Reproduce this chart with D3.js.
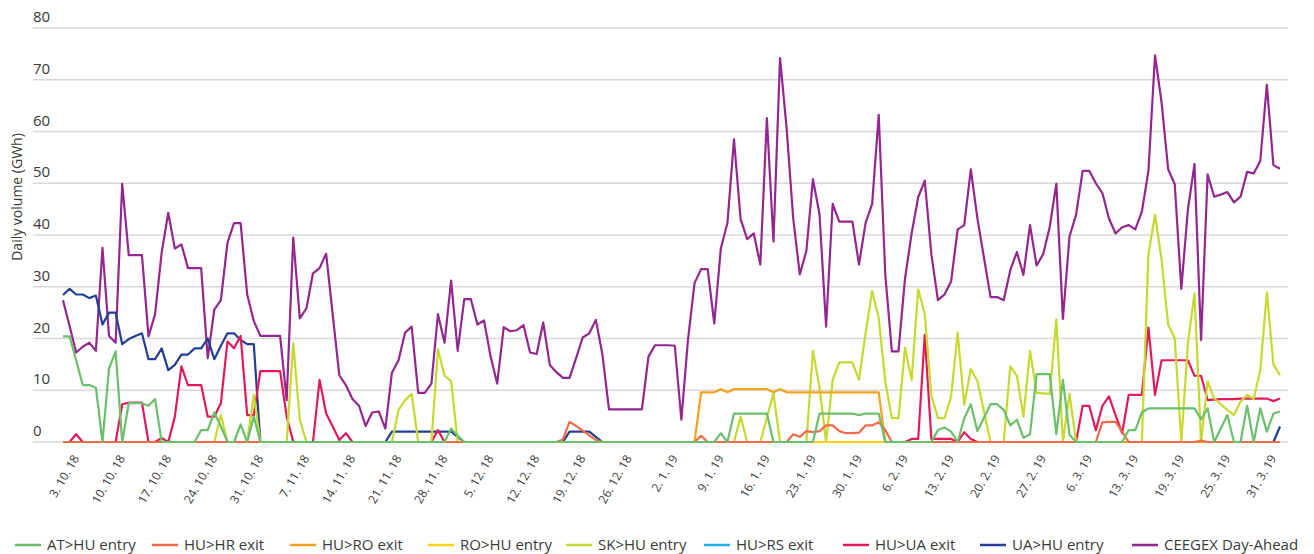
<!DOCTYPE html>
<html>
<head>
<meta charset="utf-8">
<script src="https://cdn.jsdelivr.net/npm/d3@7"></script>
<style>
  html, body { margin: 0; padding: 0; background: #ffffff; }
  svg text { font-family: "Open Sans", "Noto Sans", sans-serif; fill: #3a3a3a; }
</style>
</head>
<body>
<div id="chart"></div>
<script>
"use strict";

// Tick labels, one every 7 days of the category axis.
const tickLabels = [
    "3. 10. 18", "10. 10. 18", "17. 10. 18", "24. 10. 18", "31. 10. 18",
    "7. 11. 18", "14. 11. 18", "21. 11. 18", "28. 11. 18", "5. 12. 18",
    "12. 12. 18", "19. 12. 18", "26. 12. 18", "2. 1. 19", "9. 1. 19",
    "16. 1. 19", "23. 1. 19", "30. 1. 19", "6. 2. 19", "13. 2. 19",
    "20. 2. 19", "27. 2. 19", "6. 3. 19", "13. 3. 19", "19. 3. 19",
    "25. 3. 19", "31. 3. 19"
];
const yTicks = [0, 10, 20, 30, 40, 50, 60, 70, 80];

// Daily volumes (GWh).
const atHuEntry = [
    20.4, 20.4, 15.8, 11.0, 11.0, 10.5, 0, 14.2, 17.5, 0,
    7.5, 7.5, 7.5, 7.0, 8.3, 0, 0, 0, 0, 0,
    0, 2.3, 2.3, 5.7, 3.0, 0, 0, 3.4, 0, 4.9,
    0, 0, 0, 0, 0, 0, 0, 0, 0, 0,
    0, 0, 0, 0, 0, 0, 0, 0, 0, 0,
    0, 0, 0, 0, 0, 0, 0, 0, 0, 2.6,
    1.2, 0, 0, 0, 0, 0, 0, 0, 0, 0,
    0, 0, 0, 0, 0, 0, 0, 0, 0, 0,
    0, 0, 0, 0, 0, 0, 0, 0, 0, 0,
    0, 0, 0, 0, 0, 0, 0, 0, 0, 0,
    1.7, 0, 5.5, 5.5, 5.5, 5.5, 5.5, 5.5, 0, 0,
    0, 0, 0, 0, 0, 5.5, 5.5, 5.5, 5.5, 5.5,
    5.5, 5.2, 5.5, 5.5, 5.5, 0, 0, 0, 0, 0,
    0, 0, 0, 2.3, 2.8, 2.0, 0, 4.6, 7.3, 2.1,
    4.7, 7.3, 7.3, 6.2, 3.2, 4.3, 0.8, 1.5, 13.1, 13.1,
    13.1, 1.5, 12.0, 1.4, 0, 0, 0, 0, 0, 0,
    0, 0, 2.3, 2.3, 5.7, 6.5, 6.5, 6.5, 6.5, 6.5,
    6.5, 6.5, 6.5, 4.4, 6.5, 0, 2.6, 5.2, 0, 0,
    7.0, 0, 6.5, 2.0, 5.5, 5.9
];
const huHrExit = [
    0, 0, 0, 0, 0, 0, 0, 0, 0, 0,
    0, 0, 0, 0, 0, 0, 0, 0, 0, 0,
    0, 0, 0, 0, 0, 0, 0, 0, 0, 0,
    0, 0, 0, 0, 0, 0, 0, 0, 0, 0,
    0, 0, 0, 0, 0, 0, 0, 0, 0, 0,
    0, 0, 0, 0, 0, 0, 0, 0, 0, 0,
    0, 0, 0, 0, 0, 0, 0, 0, 0, 0,
    0, 0, 0, 0, 0, 0, 0.5, 3.9, 3.1, 2.2,
    1.3, 0.4, 0, 0, 0, 0, 0, 0, 0, 0,
    0, 0, 0, 0, 0, 0, 0, 1.2, 0, 0,
    0, 0, 0, 0, 0, 0, 0, 0, 0, 0,
    0, 1.5, 1.0, 2.1, 1.9, 2.1, 3.2, 3.2, 2.1, 1.7,
    1.7, 1.8, 3.2, 3.2, 3.8, 2.3, 0, 0, 0, 0,
    0, 0, 0, 0, 0, 0, 0, 0, 0, 0,
    0, 0, 0, 0, 0, 0, 0, 0, 0, 0,
    0, 0, 0, 0, 0, 0, 0, 0, 3.8, 3.9,
    3.9, 2.0, 0, 0, 0, 0, 0, 0, 0, 0,
    0, 0, 0, 0.3, 0, 0, 0, 0, 0, 0,
    0, 0, 0, 0, 0, 0
];
const huRoExit = [
    0, 0, 0, 0, 0, 0, 0, 0, 0, 0,
    0, 0, 0, 0, 0, 0, 0, 0, 0, 0,
    0, 0, 0, 0, 0, 0, 0, 0, 0, 0,
    0, 0, 0, 0, 0, 0, 0, 0, 0, 0,
    0, 0, 0, 0, 0, 0, 0, 0, 0, 0,
    0, 0, 0, 0, 0, 0, 0, 0, 0, 0,
    0, 0, 0, 0, 0, 0, 0, 0, 0, 0,
    0, 0, 0, 0, 0, 0, 0, 0, 0, 0,
    0, 0, 0, 0, 0, 0, 0, 0, 0, 0,
    0, 0, 0, 0, 0, 0, 0, 9.6, 9.6, 9.6,
    10.2, 9.6, 10.2, 10.2, 10.2, 10.2, 10.2, 10.2, 9.6, 10.2,
    9.6, 9.6, 9.6, 9.6, 9.6, 9.6, 9.6, 9.6, 9.6, 9.6,
    9.6, 9.6, 9.6, 9.6, 9.6, 0, 0, 0, 0, 0,
    0, 0, 0, 0, 0, 0, 0, 0, 0, 0,
    0, 0, 0, 0, 0, 0, 0, 0, 0, 0,
    0, 0, 0, 0, 0, 0, 0, 0, 0, 0,
    0, 0, 0, 0, 0, 0, 0, 0, 0, 0,
    0, 0, 0, 0, 0, 0, 0, 0, 0, 0,
    0, 0, 0, 0, 0, 0
];
const roHuEntry = [
    0, 0, 0, 0, 0, 0, 0, 0, 0, 0, 0, 0, 0, 0, 0, 0, 0, 0, 0, 0,
    0, 0, 0, 0, 0, 0, 0, 0, 0, 0, 0, 0, 0, 0, 0, 0, 0, 0, 0, 0,
    0, 0, 0, 0, 0, 0, 0, 0, 0, 0, 0, 0, 0, 0, 0, 0, 0, 0, 0, 0,
    0, 0, 0, 0, 0, 0, 0, 0, 0, 0, 0, 0, 0, 0, 0, 0, 0, 0, 0, 0,
    0, 0, 0, 0, 0, 0, 0, 0, 0, 0, 0, 0, 0, 0, 0, 0, 0, 0, 0, 0,
    0, 0, 0, 0, 0, 0, 0, 0, 0, 0, 0, 0, 0, 0, 0, 0, 0, 0, 0, 0,
    0, 0, 0, 0, 0, 0, 0, 0, 0, 0, 0, 0, 0, 0, 0, 0, 0, 0, 0, 0,
    0, 0, 0, 0, 0, 0, 0, 0, 0, 0, 0, 0, 0, 0, 0, 0, 0, 0, 0, 0,
    0, 0, 0, 0, 0, 0, 0, 0, 0, 0, 0, 0, 0, 0, 0, 0, 0, 0, 0, 0,
    0, 0, 0, 0, 0, 0
];
const skHuEntry = [
    0, 0, 0, 0, 0, 0, 0, 0, 0, 0,
    0, 0, 0, 0, 0, 0, 0, 0, 0, 0,
    0, 0, 0, 0, 5.2, 0, 0, 0, 0, 9.1,
    0, 0, 0, 0, 0, 19.1, 4.3, 0, 0, 0,
    0, 0, 0, 0, 0, 0, 0, 0, 0, 0,
    0, 6.2, 8.1, 9.3, 0, 0, 0, 17.9, 12.8, 11.8,
    0, 0, 0, 0, 0, 0, 0, 0, 0, 0,
    0, 0, 0, 0, 0, 0, 0, 0, 0, 0,
    0, 0, 0, 0, 0, 0, 0, 0, 0, 0,
    0, 0, 0, 0, 0, 0, 0, 0, 0, 0,
    0, 0, 0, 4.9, 0, 0, 0, 4.7, 9.4, 0,
    0, 0, 0, 0, 17.6, 10.5, 0, 12.0, 15.4, 15.4,
    15.4, 12.0, 21.0, 29.2, 24.0, 11.7, 4.6, 4.6, 18.2, 12.0,
    29.5, 24.7, 9.1, 4.6, 4.6, 8.8, 21.1, 7.2, 14.1, 11.8,
    5.9, 0, 0, 0, 14.6, 12.8, 4.9, 17.6, 9.5, 9.4,
    9.3, 23.7, 0, 9.3, 0, 0, 0, 0, 0, 0,
    0, 0, 0, 0, 0, 36.3, 43.9, 35.2, 22.7, 20.0,
    0, 19.1, 28.7, 0, 11.7, 8.4, 7.3, 6.2, 5.2, 7.8,
    9.1, 8.3, 13.9, 28.9, 15.0, 12.9
];
const huRsExit = [
    0, 0, 0, 0, 0, 0, 0, 0, 0, 0, 0, 0, 0, 0, 0, 0, 0, 0, 0, 0,
    0, 0, 0, 0, 0, 0, 0, 0, 0, 0, 0, 0, 0, 0, 0, 0, 0, 0, 0, 0,
    0, 0, 0, 0, 0, 0, 0, 0, 0, 0, 0, 0, 0, 0, 0, 0, 0, 0, 0, 0,
    0, 0, 0, 0, 0, 0, 0, 0, 0, 0, 0, 0, 0, 0, 0, 0, 0, 0, 0, 0,
    0, 0, 0, 0, 0, 0, 0, 0, 0, 0, 0, 0, 0, 0, 0, 0, 0, 0, 0, 0,
    0, 0, 0, 0, 0, 0, 0, 0, 0, 0, 0, 0, 0, 0, 0, 0, 0, 0, 0, 0,
    0, 0, 0, 0, 0, 0, 0, 0, 0, 0, 0, 0, 0, 0, 0, 0, 0, 0, 0, 0,
    0, 0, 0, 0, 0, 0, 0, 0, 0, 0, 0, 0, 0, 0, 0, 0, 0, 0, 0, 0,
    0, 0, 0, 0, 0, 0, 0, 0, 0, 0, 0, 0, 0, 0, 0, 0, 0, 0, 0, 0,
    0, 0, 0, 0, 0, 0
];
const huUaExit = [
    0, 0, 1.5, 0, 0, 0, 0, 0, 0, 7.3,
    7.6, 7.6, 7.6, 0, 0, 0.8, 0, 4.9, 14.6, 11.0,
    11.0, 11.0, 4.9, 4.9, 7.5, 19.4, 18.1, 20.5, 5.2, 5.2,
    13.7, 13.7, 13.7, 13.7, 4.9, 0, 0, 0, 0, 12.0,
    5.5, 3.0, 0.4, 1.7, 0, 0, 0, 0, 0, 0,
    0, 0, 0, 0, 0, 0, 0, 2.3, 0, 0,
    0, 0, 0, 0, 0, 0, 0, 0, 0, 0,
    0, 0, 0, 0, 0, 0, 0, 0, 0, 0,
    0, 0, 0, 0, 0, 0, 0, 0, 0, 0,
    0, 0, 0, 0, 0, 0, 0, 0, 0, 0,
    0, 0, 0, 0, 0, 0, 0, 0, 0, 0,
    0, 0, 0, 0, 0, 0, 0, 0, 0, 0,
    0, 0, 0, 0, 0, 0, 0, 0, 0, 0.6,
    0.6, 20.7, 0.6, 0.6, 0.6, 0.6, 0, 1.9, 0.6, 0,
    0, 0, 0, 0, 0, 0, 0, 0, 0, 0,
    0, 0, 0, 0, 0, 7.0, 7.0, 2.3, 7.0, 8.8,
    5.2, 1.7, 9.1, 9.1, 9.1, 22.1, 9.1, 15.8, 15.8, 15.8,
    15.8, 15.8, 12.8, 12.8, 8.1, 8.2, 8.3, 8.3, 8.3, 8.4,
    8.4, 8.4, 8.4, 8.4, 7.9, 8.4
];
const uaHuEntry = [
    28.4, 29.6, 28.5, 28.5, 27.8, 28.3, 22.7, 25.0, 25.0, 18.9,
    19.9, 20.5, 21.0, 16.0, 16.0, 18.1, 13.9, 14.9, 16.9, 16.9,
    18.1, 18.1, 20.0, 16.0, 18.6, 21.0, 21.0, 19.7, 18.9, 18.9,
    0, 0, 0, 0, 0, 0, 0, 0, 0, 0,
    0, 0, 0, 0, 0, 0, 0, 0, 0, 0,
    2.0, 2.0, 2.0, 2.0, 2.0, 2.0, 2.0, 2.0, 2.0, 2.0,
    1.0, 0, 0, 0, 0, 0, 0, 0, 0, 0,
    0, 0, 0, 0, 0, 0, 0, 2.0, 2.0, 2.0,
    2.0, 1.0, 0, 0, 0, 0, 0, 0, 0, 0,
    0, 0, 0, 0, 0, 0, 0, 0, 0, 0,
    0, 0, 0, 0, 0, 0, 0, 0, 0, 0,
    0, 0, 0, 0, 0, 0, 0, 0, 0, 0,
    0, 0, 0, 0, 0, 0, 0, 0, 0, 0,
    0, 0, 0, 0, 0, 0, 0, 0, 0, 0,
    0, 0, 0, 0, 0, 0, 0, 0, 0, 0,
    0, 0, 0, 0, 0, 0, 0, 0, 0, 0,
    0, 0, 0, 0, 0, 0, 0, 0, 0, 0,
    0, 0, 0, 0, 0, 0, 0, 0, 0, 0,
    0, 0, 0, 0, 0, 3.0
];
const ceegexDayAhead = [
    27.4, 22.4, 17.3, 18.4, 19.2, 17.6, 37.5, 20.5, 19.2, 49.9,
    36.1, 36.1, 36.1, 20.4, 24.7, 36.6, 44.3, 37.4, 38.2, 33.6,
    33.6, 33.6, 16.2, 25.6, 27.4, 38.5, 42.3, 42.3, 28.5, 23.4,
    20.5, 20.5, 20.5, 20.5, 8.1, 39.5, 23.9, 25.8, 32.6, 33.6,
    36.4, 24.6, 12.9, 11.0, 8.3, 7.0, 3.1, 5.7, 5.9, 2.6,
    13.4, 15.8, 21.1, 22.3, 9.5, 9.5, 11.3, 24.7, 19.2, 31.2,
    17.6, 27.6, 27.6, 22.7, 23.5, 16.5, 11.3, 22.2, 21.4, 21.6,
    22.6, 17.3, 17.0, 23.1, 14.9, 13.5, 12.4, 12.4, 16.2, 20.2,
    21.0, 23.6, 16.9, 6.3, 6.3, 6.3, 6.3, 6.3, 6.3, 16.5,
    18.7, 18.7, 18.7, 18.6, 4.3, 19.7, 30.7, 33.4, 33.4, 22.9,
    37.4, 42.3, 58.5, 43.1, 39.2, 40.3, 34.3, 62.6, 38.7, 74.2,
    60.6, 43.2, 32.4, 36.9, 50.8, 44.0, 22.3, 46.0, 42.6, 42.6,
    42.6, 34.3, 42.3, 46.0, 63.2, 32.3, 17.5, 17.5, 31.6, 40.3,
    47.3, 50.5, 36.3, 27.4, 28.5, 31.0, 41.1, 41.9, 52.7, 43.2,
    35.6, 28.0, 28.0, 27.4, 33.2, 36.7, 32.3, 41.9, 34.1, 36.3,
    41.6, 49.9, 23.8, 39.7, 43.9, 52.4, 52.4, 50.0, 48.1, 43.2,
    40.3, 41.5, 41.9, 41.1, 44.5, 52.4, 74.7, 65.6, 52.7, 49.8,
    29.6, 44.9, 53.7, 19.7, 51.7, 47.4, 47.8, 48.3, 46.3, 47.4,
    52.2, 51.9, 54.3, 69.0, 53.5, 52.8
];

const seriesNames = [
    "AT>HU entry", "HU>HR exit", "HU>RO exit", "RO>HU entry", "SK>HU entry",
    "HU>RS exit", "HU>UA exit", "UA>HU entry", "CEEGEX Day-Ahead"
];
const seriesValues = [
    atHuEntry, huHrExit, huRoExit, roHuEntry, skHuEntry,
    huRsExit, huUaExit, uaHuEntry, ceegexDayAhead
];
const seriesColors = [
    "#6cbf6b", "#f26a4b", "#f7a21d", "#fdd10f", "#c6d92e",
    "#1cb2e6", "#e11b5a", "#233f93", "#93278f"
];

const width = 1314, height = 554;
const n = ceegexDayAhead.length;

const svg = d3.select("#chart").append("svg")
    .attr("width", width)
    .attr("height", height);

// Category axis: one point per day.
const x = d3.scaleLinear().domain([0, n - 1]).range([63, 1280]);
const y = d3.scaleLinear().domain([0, 80]).range([442, 28]);

// Horizontal grid lines with their labels sitting above them.
const grid = svg.append("g").attr("class", "grid");
grid.selectAll("line").data(yTicks).join("line")
    .attr("x1", 33).attr("x2", 1288)
    .attr("y1", d => y(d)).attr("y2", d => y(d))
    .attr("stroke", "#d9d9d9")
    .attr("stroke-width", 1.5);
grid.selectAll("text").data(yTicks).join("text")
    .attr("x", 33)
    .attr("y", d => y(d) - 6)
    .style("font-size", "15px")
    .text(d => d);

// Y axis title.
svg.append("text")
    .attr("transform", "translate(22,197) rotate(-90)")
    .style("text-anchor", "middle")
    .style("font-size", "14px")
    .text("Daily volume (GWh)");

// X axis labels, every 7th category, rotated.
const xAxis = d3.axisBottom(x)
    .tickValues(d3.range(0, n, 7).slice(0, tickLabels.length))
    .tickFormat((d, i) => tickLabels[i])
    .tickSize(0);
const xg = svg.append("g")
    .attr("transform", "translate(0," + y(0) + ")")
    .call(xAxis);
xg.select(".domain").remove();
xg.selectAll("text")
    .attr("x", 0).attr("y", 0).attr("dy", 0)
    .attr("transform", "translate(16,16) rotate(-60)")
    .style("text-anchor", "end")
    .style("font-size", "12px")
    .style("font-family", '"Open Sans", "Noto Sans", sans-serif')
    .style("fill", "#3a3a3a");

// Lines, first legend entry drawn last so it sits on top.
const line = d3.line()
    .x((d, i) => x(i))
    .y(d => y(d));

const lines = svg.append("g").attr("class", "lines");
for (let s = seriesValues.length - 1; s >= 0; s--) {
    lines.append("path")
        .datum(seriesValues[s])
        .attr("fill", "none")
        .attr("stroke", seriesColors[s])
        .attr("stroke-width", 2.2)
        .attr("stroke-linejoin", "round")
        .attr("d", line);
}

// Legend along the bottom.
const legendX = [15, 152, 290, 428, 566, 704, 843, 980, 1132];
const legend = svg.append("g").attr("class", "legend");
seriesNames.forEach((name, i) => {
    const g = legend.append("g").attr("transform", "translate(" + legendX[i] + ",545)");
    g.append("line")
        .attr("x1", 0).attr("x2", 26)
        .attr("y1", 0).attr("y2", 0)
        .attr("stroke", seriesColors[i])
        .attr("stroke-width", 2.5);
    g.append("text")
        .attr("x", 32)
        .attr("y", 0)
        .attr("dy", "0.35em")
        .style("font-size", "15px")
        .text(name);
});
</script>
</body>
</html>
